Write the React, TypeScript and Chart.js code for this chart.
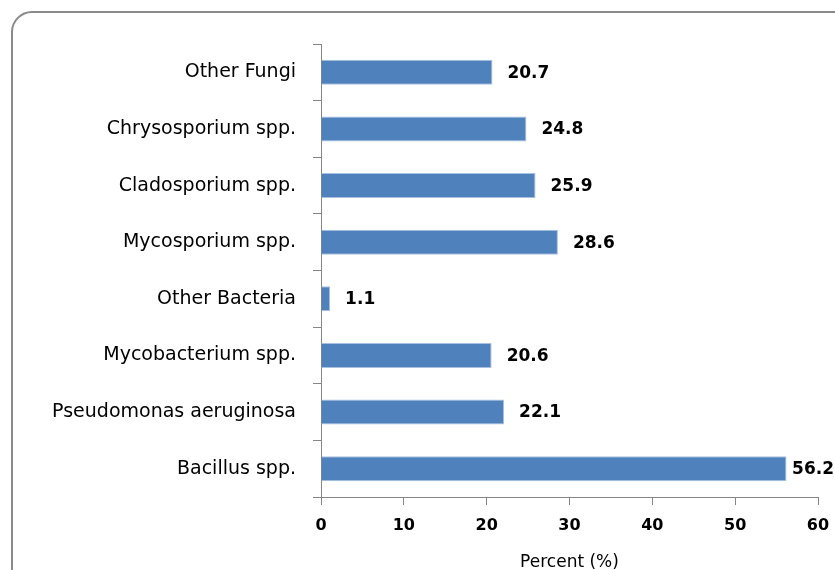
import { useEffect, useRef } from "react";
import { Chart, registerables } from "chart.js";

Chart.register(...registerables);

const categories = [
  "Other Fungi",
  "Chrysosporium spp.",
  "Cladosporium spp.",
  "Mycosporium spp.",
  "Other Bacteria",
  "Mycobacterium spp.",
  "Pseudomonas aeruginosa",
  "Bacillus spp.",
];
const values = [20.7, 24.8, 25.9, 28.6, 1.1, 20.6, 22.1, 56.2];
const xMin = 0;
const xMax = 60;
const xStep = 10;
const xTitle = "Percent (%)";

const FONT = "'DejaVu Sans', sans-serif";

export default function App() {
  const ref = useRef<HTMLCanvasElement>(null);

  useEffect(() => {
    if (!ref.current) return;

    const framePlugin = {
      id: "frame",
      beforeDraw(chart: any) {
        const ctx = chart.ctx;
        ctx.save();
        ctx.fillStyle = "#ffffff";
        ctx.fillRect(0, 0, chart.width, chart.height);
        const x = 12, y = 12, w = 860, h = 600, r = 20;
        ctx.beginPath();
        ctx.moveTo(x + r, y);
        ctx.lineTo(x + w - r, y);
        ctx.arcTo(x + w, y, x + w, y + r, r);
        ctx.lineTo(x + w, y + h - r);
        ctx.arcTo(x + w, y + h, x + w - r, y + h, r);
        ctx.lineTo(x + r, y + h);
        ctx.arcTo(x, y + h, x, y + h - r, r);
        ctx.lineTo(x, y + r);
        ctx.arcTo(x, y, x + r, y, r);
        ctx.closePath();
        ctx.strokeStyle = "#8a8a8a";
        ctx.lineWidth = 2;
        ctx.stroke();
        ctx.restore();
      },
    };

    const valueLabels = {
      id: "valueLabels",
      afterDatasetsDraw(chart: any) {
        const ctx = chart.ctx;
        const meta = chart.getDatasetMeta(0);
        ctx.save();
        ctx.font = `bold 17px ${FONT}`;
        ctx.fillStyle = "#000000";
        ctx.textAlign = "left";
        ctx.textBaseline = "middle";
        meta.data.forEach((bar: any, i: number) => {
          const text = values[i].toFixed(1);
          const tw = ctx.measureText(text).width;
          let lx = bar.x + 15;
          if (lx + tw > chart.width - 1) lx = chart.width - 1 - tw;
          ctx.fillText(text, lx, bar.y + 1);
        });
        ctx.restore();
      },
    };

    const chart = new Chart(ref.current, {
      type: "bar",
      data: {
        labels: categories,
        datasets: [
          {
            data: values,
            backgroundColor: "#4F81BD",
            borderColor: "#A9C1E0",
            borderWidth: 1,
            barPercentage: 0.88,
            categoryPercentage: 0.5,
          },
        ],
      },
      options: {
        indexAxis: "y",
        responsive: false,
        maintainAspectRatio: false,
        animation: false,
        layout: { padding: { top: 44, right: 17, bottom: 0, left: 0 } },
        plugins: {
          legend: { display: false },
          tooltip: { enabled: false },
        },
        scales: {
          x: {
            min: xMin,
            max: xMax,
            ticks: {
              stepSize: xStep,
              color: "#000000",
              padding: 11,
              font: { family: FONT, size: 16, weight: "bold" },
            },
            grid: {
              drawOnChartArea: false,
              drawTicks: true,
              tickLength: 8,
              color: "#868686",
            },
            border: { color: "#868686", width: 1 },
            title: {
              display: true,
              text: xTitle,
              color: "#000000",
              padding: { top: 0, bottom: -3 },
              font: { family: FONT, size: 17 },
            },
            afterFit(scale: any) {
              scale.height = 73;
              scale.paddingRight = 0;
              scale.paddingLeft = 0;
            },
          },
          y: {
            ticks: {
              color: "#000000",
              padding: 17,
              font: { family: FONT, size: 19 },
            },
            grid: {
              offset: true,
              drawOnChartArea: false,
              drawTicks: true,
              tickLength: 8,
              color: "#868686",
            },
            border: { color: "#868686", width: 1 },
            afterFit(scale: any) {
              scale.width = 321;
              scale.paddingTop = 0;
              scale.paddingBottom = 0;
            },
          },
        },
      },
      plugins: [framePlugin, valueLabels],
    } as any);

    return () => chart.destroy();
  }, []);

  return (
    <div style={{ position: "absolute", left: 0, top: 0, width: 835, height: 570 }}>
      <canvas ref={ref} width={835} height={570} style={{ display: "block" }} />
    </div>
  );
}
